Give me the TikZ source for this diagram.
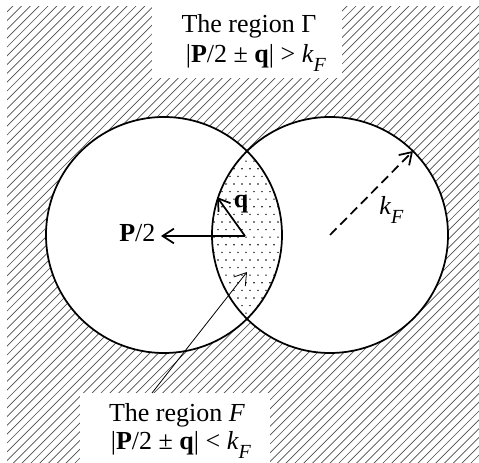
\documentclass[tikz,border=0pt]{standalone}
\usepackage{fontspec}
\setmainfont{Liberation Serif}
\usetikzlibrary{arrows.meta}
\newcommand{\myKF}{\textit{k}\raisebox{-0.32em}{\fontsize{15}{15}\selectfont\textit{F}}}
\tikzset{
  hatchline/.style={line width=0.5pt, black!70},
  circline/.style={line width=1.3pt},
  arr/.style={line width=1.3pt, -{Straight Barb[length=8.5pt,width=11pt,line width=1.3pt]}},
  thinarr/.style={line width=0.6pt, -{Straight Barb[length=8.5pt,width=11pt,line width=0.6pt]}},
  lbl/.style={inner sep=0pt, font=\fontsize{19.5}{23}\selectfont},
  dotmark/.style={fill=black}
}
\begin{document}
\begin{tikzpicture}[x=0.75pt,y=-0.75pt]
\useasboundingbox (0,0) rectangle (479,463);
\coordinate (cL) at (164,235);
\coordinate (cR) at (330,235);
% hatched background
\begin{scope}
  \clip (7,7) rectangle (479,463);
  \foreach \c in {10,18.8,...,960} \draw[hatchline] (\c,0) -- (\c-520,520);
\end{scope}
% white areas
\fill[white] (cL) circle[radius=88.5pt];
\fill[white] (cR) circle[radius=88.5pt];
\fill[white] (152,0) rectangle (342,78);
\fill[white] (80,393) rectangle (270,463);
% dotted lens
\begin{scope}
  \clip (cL) circle[radius=88.5pt];
  \clip (cR) circle[radius=88.5pt];
  \foreach \i in {0,...,25} {
    \foreach \j in {0,...,13} {
      \fill[dotmark] ({198+8*\j+4*mod(\i,2)},{146+7.6*\i}) circle[radius=0.6pt];
    }
  }
\end{scope}
% circles
\draw[circline] (cL) circle[radius=88.5pt];
\draw[circline] (cR) circle[radius=88.5pt];
% vectors
\coordinate (o) at (245,236);
\coordinate (qh) at (217,197);
\coordinate (kh) at (413,151);
\node[lbl, anchor=base east, inner xsep=4pt] (P) at (161,242) {\textbf{P}/2};
\node[lbl, anchor=base] (q) at (241,208) {\textbf{q}};
\node[lbl, anchor=base west] (kF) at (379,215) {\myKF};
\draw[arr] (o) -- (o -| P.east);
\draw[arr] (o) -- (qh);
\draw[arr, dash pattern=on 7pt off 4pt] (cR) -- (kh);
% labels
\node[lbl, anchor=base] (G1) at (249,33) {The region Γ};
\node[lbl, anchor=base] (G2) at (256,63) {|\textbf{P}/2 ± \textbf{q}| > \myKF};
\node[lbl, anchor=base] (F1) at (177,422) {The region \textit{F}};
\node[lbl, anchor=base] (F2) at (181,450) {|\textbf{P}/2 ± \textbf{q}| < \myKF};
\coordinate (fs) at (152,393);
\coordinate (fh) at (247,272);
\draw[thinarr] (fs) -- (fh);
\end{tikzpicture}
\end{document}
